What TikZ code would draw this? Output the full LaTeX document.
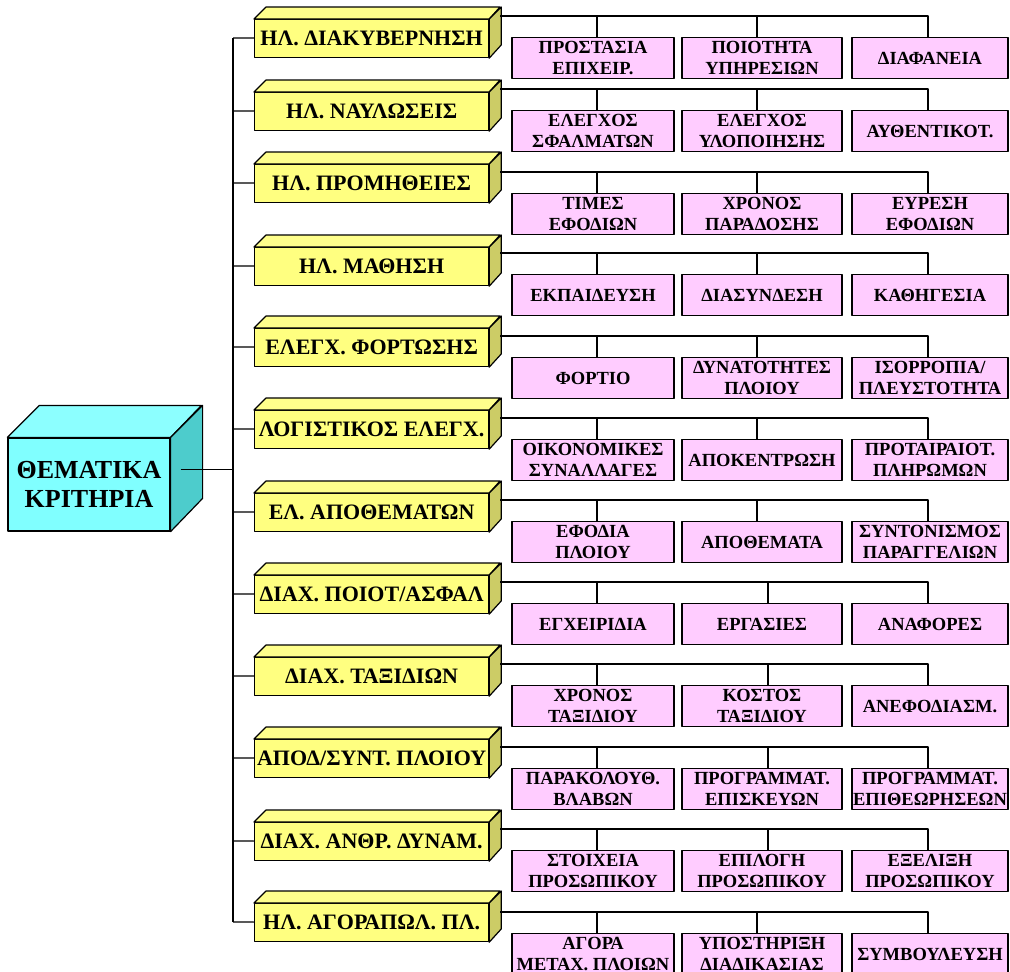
\documentclass[tikz,border=0pt]{standalone}
\usepackage{fontspec}
\setmainfont{Liberation Serif}
\definecolor{cubefront}{RGB}{128,255,255}
\definecolor{cubetop}{RGB}{140,255,255}
\definecolor{cubeside}{RGB}{77,204,204}
\definecolor{yelfront}{RGB}{255,255,128}
\definecolor{yeltop}{RGB}{255,255,140}
\definecolor{yelside}{RGB}{204,204,102}
\definecolor{pinkfill}{RGB}{255,204,255}
\begin{document}
\begin{tikzpicture}[x=1pt,y=-1pt,line join=round,line width=1.2pt,
	sub/.style={draw,fill=pinkfill,minimum height=41pt,inner sep=0pt,anchor=north,
		align=center,font=\fontsize{18.5}{20.7}\selectfont\bfseries},
	grp/.style={draw,fill=yelfront,minimum width=234pt,minimum height=38pt,inner sep=0pt,
		anchor=north west,font=\fontsize{22}{24}\selectfont\bfseries}]
	\useasboundingbox (0,0) rectangle (1010,972);
	\def\d{12}
	\def\D{32}
	\node[draw,fill=cubefront,minimum width=162pt,minimum height=93pt,inner sep=0pt,
	align=center,font=\fontsize{26}{29}\selectfont\bfseries] (root) at (89,484.5) {ΘΕΜΑΤΙΚΑ\\ΚΡΙΤΗΡΙΑ};
	\draw[fill=cubetop] (root.north west) -- ++(\D,-\D) -- ++(162,0) -- (root.north east) -- cycle;
	\draw[fill=cubeside] (root.north east) -- ++(\D,-\D) -- ++(0,93) -- (root.south east) -- cycle;
	\path ([shift={(10,-15)}]root.east) coordinate (rc);
	\foreach \i/\yf/\yb/\m/\g/\a/\b/\c in {
		1/19/16/-5/{ΗΛ. ΔΙΑΚΥΒΕΡΝΗΣΗ}/{ΠΡΟΣΤΑΣΙΑ\\ΕΠΙΧΕΙΡ.}/{ΠΟΙΟΤΗΤΑ\\ΥΠΗΡΕΣΙΩΝ}/{ΔΙΑΦΑΝΕΙΑ},
		2/92/89/-5/{ΗΛ. ΝΑΥΛΩΣΕΙΣ}/{ΕΛΕΓΧΟΣ\\ΣΦΑΛΜΑΤΩΝ}/{ΕΛΕΓΧΟΣ\\ΥΛΟΠΟΙΗΣΗΣ}/{ΑΥΘΕΝΤΙΚΟΤ.},
		3/164/172/-5/{ΗΛ. ΠΡΟΜΗΘΕΙΕΣ}/{ΤΙΜΕΣ\\ΕΦΟΔΙΩΝ}/{ΧΡΟΝΟΣ\\ΠΑΡΑΔΟΣΗΣ}/{ΕΥΡΕΣΗ\\ΕΦΟΔΙΩΝ},
		4/247/253/-5/{ΗΛ. ΜΑΘΗΣΗ}/{ΕΚΠΑΙΔΕΥΣΗ}/{ΔΙΑΣΥΝΔΕΣΗ}/{ΚΑΘΗΓΕΣΙΑ},
		5/328/336/-5/{ΕΛΕΓΧ. ΦΟΡΤΩΣΗΣ}/{ΦΟΡΤΙΟ}/{ΔΥΝΑΤΟΤΗΤΕΣ\\ΠΛΟΙΟΥ}/{ΙΣΟΡΡΟΠΙΑ/\\ΠΛΕΥΣΤΟΤΗΤΑ},
		6/410/418/-5/{ΛΟΓΙΣΤΙΚΟΣ ΕΛΕΓΧ.}/{ΟΙΚΟΝΟΜΙΚΕΣ\\ΣΥΝΑΛΛΑΓΕΣ}/{ΑΠΟΚΕΝΤΡΩΣΗ}/{ΠΡΟΤΑΙΡΑΙΟΤ.\\ΠΛΗΡΩΜΩΝ},
		7/493/500/-5/{ΕΛ. ΑΠΟΘΕΜΑΤΩΝ}/{ΕΦΟΔΙΑ\\ΠΛΟΙΟΥ}/{ΑΠΟΘΕΜΑΤΑ}/{ΣΥΝΤΟΝΙΣΜΟΣ\\ΠΑΡΑΓΓΕΛΙΩΝ},
		8/575/582/6/{ΔΙΑΧ. ΠΟΙΟΤ/ΑΣΦΑΛ}/{ΕΓΧΕΙΡΙΔΙΑ}/{ΕΡΓΑΣΙΕΣ}/{ΑΝΑΦΟΡΕΣ},
		9/657/664/6/{ΔΙΑΧ. ΤΑΞΙΔΙΩΝ}/{ΧΡΟΝΟΣ\\ΤΑΞΙΔΙΟΥ}/{ΚΟΣΤΟΣ\\ΤΑΞΙΔΙΟΥ}/{ΑΝΕΦΟΔΙΑΣΜ.},
		10/739/747/6/{ΑΠΟΔ/ΣΥΝΤ. ΠΛΟΙΟΥ}/{ΠΑΡΑΚΟΛΟΥΘ.\\ΒΛΑΒΩΝ}/{ΠΡΟΓΡΑΜΜΑΤ.\\ΕΠΙΣΚΕΥΩΝ}/{ΠΡΟΓΡΑΜΜΑΤ.\\ΕΠΙΘΕΩΡΗΣΕΩΝ},
		11/822/829/6/{ΔΙΑΧ. ΑΝΘΡ. ΔΥΝΑΜ.}/{ΣΤΟΙΧΕΙΑ\\ΠΡΟΣΩΠΙΚΟΥ}/{ΕΠΙΛΟΓΗ\\ΠΡΟΣΩΠΙΚΟΥ}/{ΕΞΕΛΙΞΗ\\ΠΡΟΣΩΠΙΚΟΥ},
		12/903/912/-5/{ΗΛ. ΑΓΟΡΑΠΩΛ. ΠΛ.}/{ΑΓΟΡΑ\\ΜΕΤΑΧ. ΠΛΟΙΩΝ}/{ΥΠΟΣΤΗΡΙΞΗ\\ΔΙΑΔΙΚΑΣΙΑΣ}/{ΣΥΜΒΟΥΛΕΥΣΗ}}
	{
		\node[grp] (g\i) at (254,\yf) {\g};
		\draw[fill=yeltop] (g\i.north west) -- ++(\d,-\d) -- ++(234,0) -- (g\i.north east) -- cycle;
		\draw[fill=yelside] (g\i.north east) -- ++(\d,-\d) -- ++(0,38) -- (g\i.south east) -- cycle;
		\path (233,\yf+19) coordinate (t\i) (500,\yb) coordinate (b\i);
		\draw (t\i) -- (g\i);
		\node[sub,minimum width=162pt] (pa\i) at (593,\yb+21) {\a};
		\node[sub,minimum width=160pt] (pb\i) at (762,\yb+21) {\b};
		\node[sub,minimum width=156pt] (pc\i) at (930,\yb+21) {\c};
		\draw (b\i) -| ([xshift=-2pt]pc\i.north);
		\draw ([xshift=4pt]pa\i.north) -- ([xshift=4pt]pa\i.north |- b\i);
		\draw ([xshift=\m pt]pb\i.north) -- ([xshift=\m pt]pb\i.north |- b\i);
	}
	\draw (t1) -- (t12);
	\draw (rc) -- (rc -| t1);
\end{tikzpicture}
\end{document}
